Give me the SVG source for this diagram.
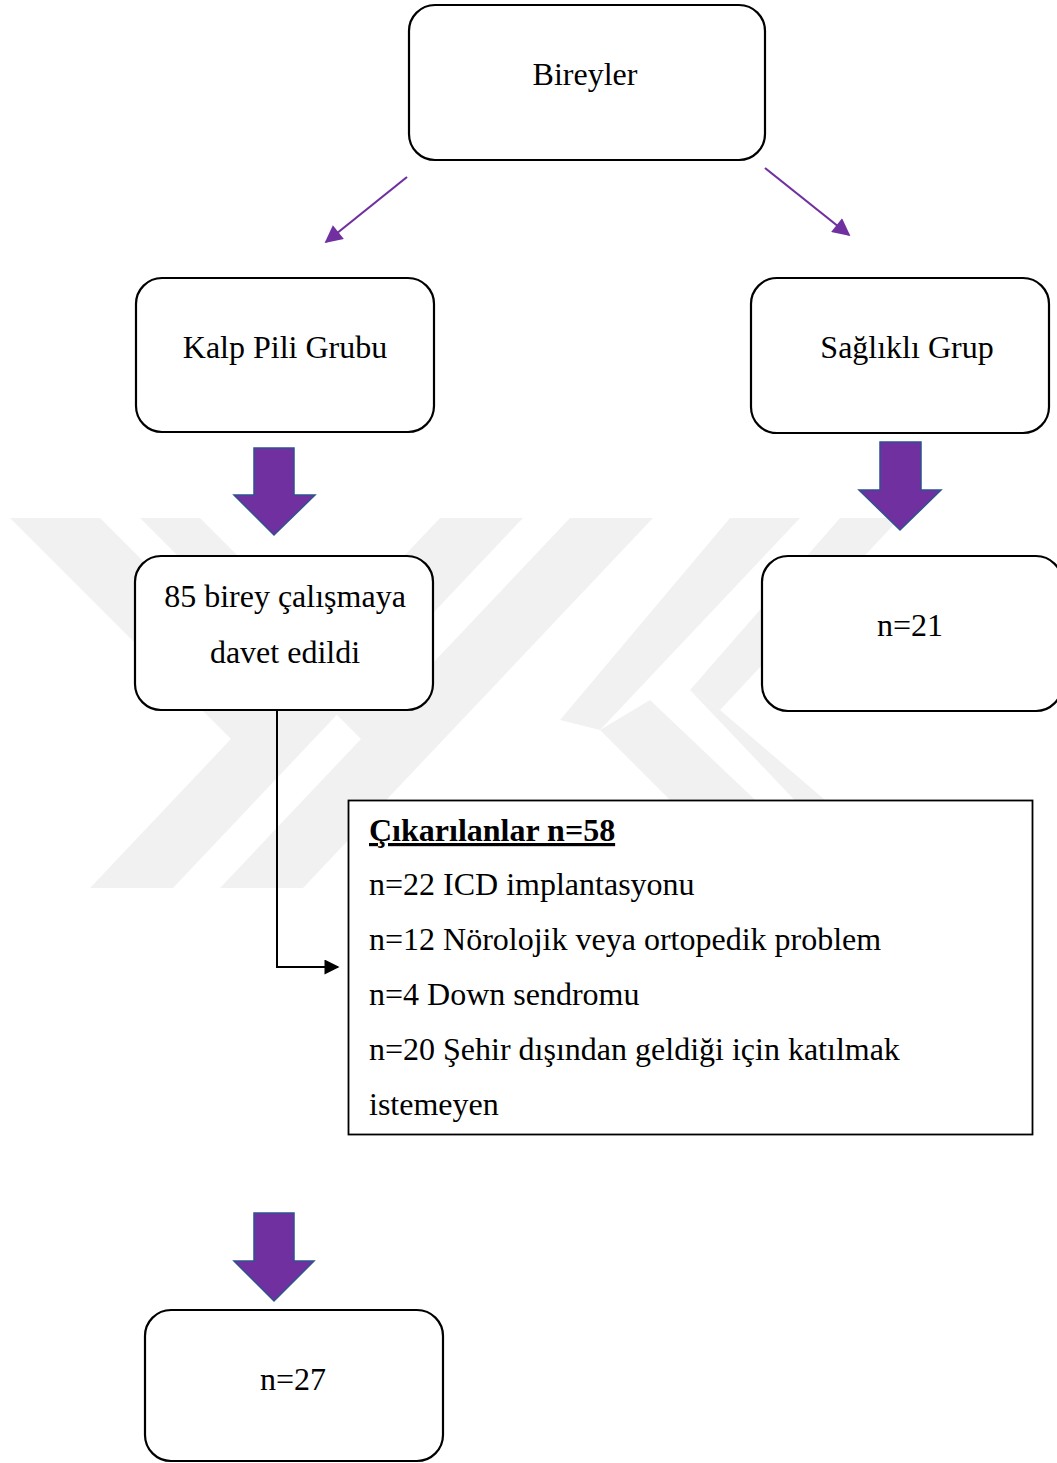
<svg xmlns="http://www.w3.org/2000/svg" width="1057" height="1463" viewBox="0 0 1057 1463">
<defs>
<style>
.box{fill:#fff;stroke:#000;stroke-width:2.2}
.t{font-family:"Liberation Serif","Times New Roman",serif;font-size:32px;fill:#000}
.c{text-anchor:middle}
.thin{stroke:#7030a0;stroke-width:2.2;fill:none}
.blk{fill:#7030a0;stroke:#2f528f;stroke-width:1.5}
.wm{fill:#f1f1f1}
</style>
<marker id="pa" viewBox="0 0 10 10" refX="9" refY="5" markerWidth="9" markerHeight="8" markerUnits="strokeWidth" orient="auto">
<path d="M0,0 L10,5 L0,10 Z" fill="#7030a0"/>
</marker>
<marker id="ba" viewBox="0 0 10 10" refX="9" refY="5" markerWidth="8.5" markerHeight="7.5" markerUnits="strokeWidth" orient="auto">
<path d="M0,0 L10,5 L0,10 Z" fill="#000"/>
</marker>
</defs>
<rect width="1057" height="1463" fill="#fff"/>
<g id="watermark" class="wm">
<polygon points="440,518 523,518 173,888 90,888"/>
<polygon points="570,518 653,518 303,888 220,888"/>
<polygon points="10,518 100,518 296,714 252,760"/>
<polygon points="140,518 200,518 411,729 382,760"/>
<polygon points="730,518 800,518 600,730 560,720"/>
<polygon points="840,518 900,518 720,710 690,690"/>
<polygon points="600,730 650,700 850,890 760,890"/>
<polygon points="690,690 720,710 930,890 880,890"/>
</g>
<g id="connectors">
<line class="thin" x1="407" y1="177" x2="326" y2="242" marker-end="url(#pa)"/>
<line class="thin" x1="765" y1="168" x2="849" y2="235" marker-end="url(#pa)"/>
<polygon class="blk" points="254,448 294,448 294,495 315,495 274,535 234,495 254,495"/>
<polygon class="blk" points="880,442 921,442 921,490 941,490 900,530 859,490 880,490"/>
<polygon class="blk" points="254,1213 294,1213 294,1261 314,1261 274,1301 234,1261 254,1261"/>
<polyline points="277,710 277,967 338,967" fill="none" stroke="#000" stroke-width="2" marker-end="url(#ba)"/>
</g>
<g id="n-bireyler">
<rect class="box" x="409" y="5" width="356" height="155" rx="26"/>
<text class="t c" x="585" y="85">Bireyler</text>
</g>
<g id="n-kalp">
<rect class="box" x="136" y="278" width="298" height="154" rx="26"/>
<text class="t c" x="285" y="358">Kalp Pili Grubu</text>
</g>
<g id="n-saglikli">
<rect class="box" x="751" y="278" width="298" height="155" rx="26"/>
<text class="t c" x="907" y="358">Sağlıklı Grup</text>
</g>
<g id="n-85">
<rect class="box" x="135" y="556" width="298" height="154" rx="26"/>
<text class="t c" x="285" y="607">85 birey çalışmaya</text>
<text class="t c" x="285" y="663">davet edildi</text>
</g>
<g id="n-21">
<rect class="box" x="762" y="556" width="300" height="155" rx="26"/>
<text class="t c" x="910" y="636">n=21</text>
</g>
<g id="n-cikarilanlar">
<rect x="348.5" y="800.5" width="684" height="334" fill="#fff" stroke="#000" stroke-width="1.8"/>
<text class="t" x="369" y="841" font-weight="bold" text-decoration="underline">Çıkarılanlar n=58</text>
<text class="t" x="369" y="895">n=22 ICD implantasyonu</text>
<text class="t" x="369" y="950">n=12 Nörolojik veya ortopedik problem</text>
<text class="t" x="369" y="1005">n=4 Down sendromu</text>
<text class="t" x="369" y="1060">n=20 Şehir dışından geldiği için katılmak</text>
<text class="t" x="369" y="1115">istemeyen</text>
</g>
<g id="n-27">
<rect class="box" x="145" y="1310" width="298" height="151" rx="26"/>
<text class="t c" x="293" y="1390">n=27</text>
</g>
</svg>
